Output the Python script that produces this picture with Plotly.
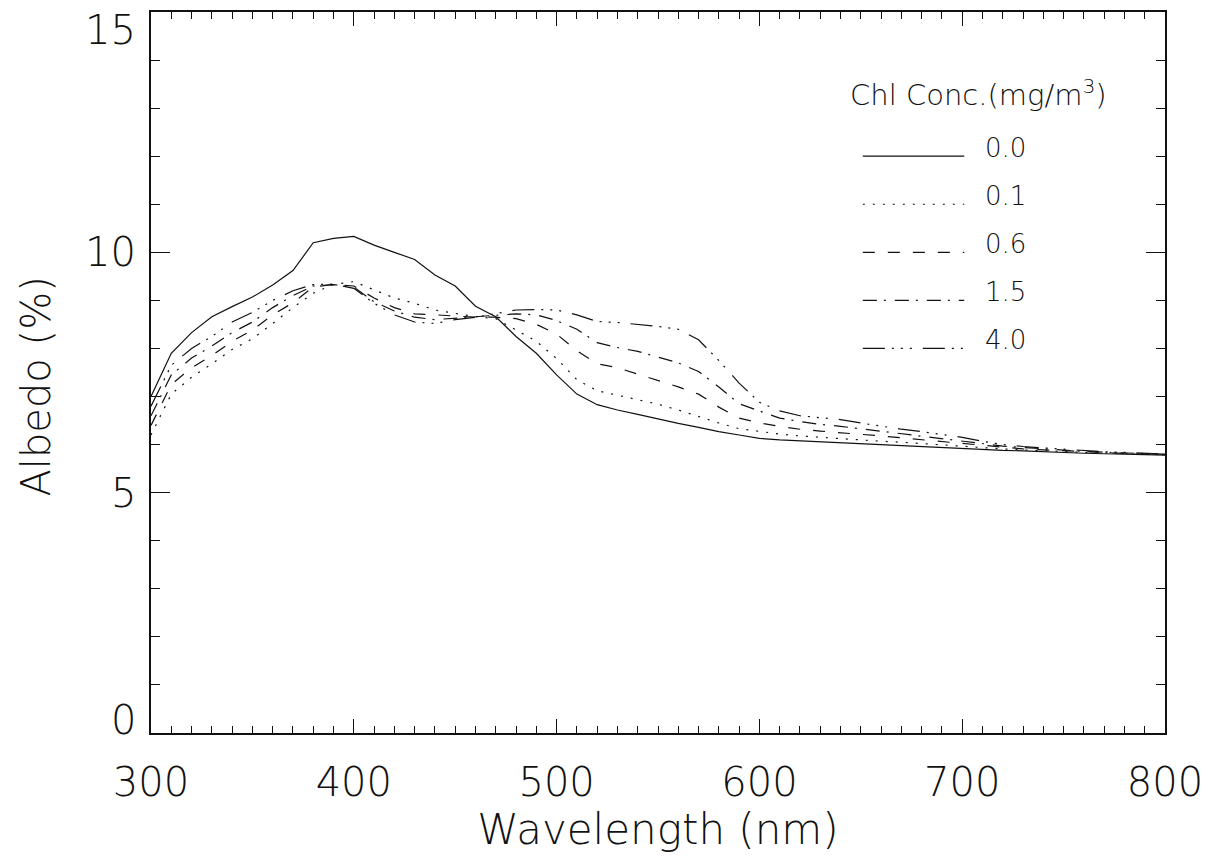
import plotly.graph_objects as go

wavelength = [300, 310, 320, 330, 340, 350, 360, 370, 380, 390,
              400, 410, 420, 430, 440, 450, 460, 470, 480, 490,
              500, 510, 520, 530, 540, 550, 560, 570, 580, 590,
              600, 610, 620, 630, 640, 650, 660, 670, 680, 690,
              700, 710, 720, 730, 740, 750, 760, 770, 780, 790, 800]

albedo_00 = [7.00, 7.90, 8.33, 8.66, 8.87, 9.07, 9.32, 9.62, 10.20, 10.29,
             10.33, 10.15, 10.00, 9.85, 9.53, 9.30, 8.88, 8.66, 8.25, 7.90,
             7.45, 7.05, 6.83, 6.72, 6.63, 6.53, 6.44, 6.36, 6.27, 6.20,
             6.13, 6.10, 6.08, 6.06, 6.04, 6.02, 6.00, 5.98, 5.96, 5.94,
             5.91, 5.90, 5.88, 5.87, 5.85, 5.84, 5.82, 5.81, 5.80, 5.79, 5.78]

albedo_01 = [6.20, 7.05, 7.40, 7.68, 7.98, 8.20, 8.52, 8.85, 9.15, 9.33,
             9.39, 9.22, 9.05, 8.94, 8.80, 8.73, 8.66, 8.62, 8.38, 8.15,
             7.79, 7.35, 7.12, 7.03, 6.94, 6.84, 6.72, 6.58, 6.45, 6.33,
             6.27, 6.22, 6.18, 6.15, 6.12, 6.10, 6.07, 6.05, 6.02, 5.99,
             5.96, 5.93, 5.91, 5.89, 5.87, 5.86, 5.84, 5.83, 5.81, 5.80, 5.79]

albedo_06 = [6.40, 7.25, 7.60, 7.85, 8.15, 8.38, 8.70, 8.95, 9.28, 9.33,
             9.30, 9.05, 8.85, 8.72, 8.70, 8.68, 8.65, 8.65, 8.62, 8.50,
             8.30, 7.95, 7.68, 7.60, 7.47, 7.33, 7.20, 7.05, 6.78, 6.55,
             6.45, 6.38, 6.32, 6.28, 6.25, 6.21, 6.18, 6.14, 6.10, 6.06,
             6.02, 5.98, 5.94, 5.91, 5.89, 5.87, 5.85, 5.83, 5.82, 5.80, 5.79]

albedo_15 = [6.60, 7.45, 7.80, 8.05, 8.33, 8.55, 8.85, 9.10, 9.30, 9.33,
             9.28, 8.97, 8.78, 8.65, 8.60, 8.63, 8.65, 8.68, 8.72, 8.70,
             8.58, 8.40, 8.12, 8.02, 7.94, 7.82, 7.70, 7.52, 7.20, 6.85,
             6.70, 6.55, 6.48, 6.42, 6.38, 6.33, 6.28, 6.23, 6.18, 6.13,
             6.08, 6.02, 5.97, 5.94, 5.91, 5.88, 5.86, 5.84, 5.83, 5.81, 5.80]

albedo_40 = [6.80, 7.65, 8.00, 8.25, 8.55, 8.75, 9.00, 9.20, 9.33, 9.34,
             9.25, 8.94, 8.70, 8.55, 8.52, 8.60, 8.65, 8.72, 8.80, 8.81,
             8.80, 8.70, 8.56, 8.54, 8.50, 8.46, 8.40, 8.18, 7.75, 7.28,
             6.88, 6.70, 6.60, 6.56, 6.52, 6.45, 6.38, 6.32, 6.27, 6.21,
             6.15, 6.07, 6.00, 5.96, 5.93, 5.90, 5.87, 5.85, 5.84, 5.82, 5.80]

conc_labels = ["0.0", "0.1", "0.6", "1.5", "4.0"]
legend_title = "Chl Conc.(mg/m<sup>3</sup>)"
x_title = "Wavelength (nm)"
y_title = "Albedo (%)"
x_tick_vals = [300, 400, 500, 600, 700, 800]
y_tick_vals = [0, 5, 10, 15]

series = [albedo_00, albedo_01, albedo_06, albedo_15, albedo_40]
dashes = ["solid", "2px,8px", "12px,13px", "14px,7px,2px,9px",
          "22px,7px,2px,7px,2px,7px,2px,11px"]

FONT = "DejaVu Sans ExtraLight, DejaVu Sans Light, DejaVu Sans"
INK = "#111111"

fig = go.Figure()
for vals, dash, lab in zip(series, dashes, conc_labels):
    fig.add_trace(go.Scatter(x=wavelength, y=vals, mode="lines", name=lab,
                             line=dict(color=INK, width=1.2, dash=dash),
                             showlegend=False))

# hand-drawn legend inside the plot (IDL style)
leg_x0, leg_x1, leg_text_x = 651, 701, 710.5
leg_y_top = 12
for i, (dash, lab) in enumerate(zip(dashes, conc_labels)):
    yy = leg_y_top - i
    fig.add_shape(type="line", xref="x", yref="y", x0=leg_x0, x1=leg_x1, y0=yy, y1=yy,
                  line=dict(color=INK, width=1.2, dash=dash))
    fig.add_annotation(x=leg_text_x, y=yy + 0.17, xref="x", yref="y", text=lab,
                       showarrow=False, xanchor="left", yanchor="middle",
                       font=dict(family=FONT, size=26, color=INK, weight=200))
fig.add_annotation(x=708, y=13.32, xref="x", yref="y", text=legend_title,
                   showarrow=False, xanchor="center", yanchor="middle",
                   font=dict(family=FONT, size=29, color=INK, weight=200))

# y tick labels (IDL nudges end labels inside the axis span)
for v in y_tick_vals:
    shift = 0
    if v == y_tick_vals[0]:
        shift = 13
    elif v == y_tick_vals[-1]:
        shift = -18
    fig.add_annotation(x=0, y=v, xref="paper", yref="y", text=str(v),
                       showarrow=False, xanchor="right", yanchor="middle",
                       xshift=-13, yshift=shift,
                       font=dict(family=FONT, size=40, color=INK, weight=200))

# y axis title
fig.add_annotation(x=0, y=0.5, xref="paper", yref="paper", text=y_title,
                   showarrow=False, textangle=-90, xanchor="center", yanchor="middle",
                   xshift=-116, yshift=-14,
                   font=dict(family=FONT, size=40, color=INK, weight=200))

axis_common = dict(showline=True, linecolor=INK, linewidth=1.5, mirror="allticks",
                   ticks="inside", tickcolor=INK, tickwidth=1.2, showgrid=False,
                   zeroline=False,
                   tickfont=dict(family=FONT, size=40, color=INK, weight=200),
                   title_font=dict(family=FONT, size=42, color=INK, weight=200))

fig.update_xaxes(range=[300, 800], tickvals=x_tick_vals,
                 ticklen=14, title_text=x_title, title_standoff=8,
                 minor=dict(dtick=10, tick0=300, ticklen=7, ticks="inside",
                            tickcolor=INK, tickwidth=1.2, showgrid=False),
                 ticklabelstandoff=13, ticklabeloverflow="allow", **axis_common)
fig.update_yaxes(range=[0, 15], tickvals=y_tick_vals, showticklabels=False,
                 ticklen=19,
                 minor=dict(dtick=1, tick0=0, ticklen=9, ticks="inside",
                            tickcolor=INK, tickwidth=1.2, showgrid=False),
                 **axis_common)

fig.update_layout(width=1212, height=862,
                  margin=dict(l=151, r=47, t=12, b=129, autoexpand=False),
                  plot_bgcolor="white", paper_bgcolor="white")

fig.write_html("out.html")
